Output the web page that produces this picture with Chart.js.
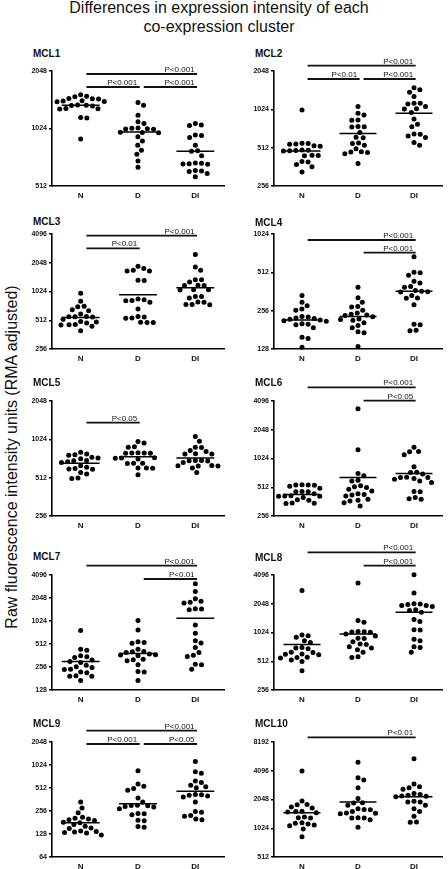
<!DOCTYPE html>
<html>
<head>
<meta charset="utf-8">
<script src="https://cdn.jsdelivr.net/npm/chart.js@4"></script>
<style>
  body { margin: 0; background: #fff; width: 448px; height: 869px; position: relative; overflow: hidden;
         font-family: "Liberation Sans", Arial, sans-serif; color: #111; }
  .main-title { position: absolute; left: 0; top: -1px; width: 438px; text-align: center; font-size: 16px; line-height: 18.5px; }
  .ylab { position: absolute; left: 12px; top: 457px; transform: translate(-50%, -50%) rotate(-90deg);
          white-space: nowrap; font-size: 16px; }
  .panel-title { position: absolute; font-weight: bold; font-size: 10px; line-height: 10px; }
  canvas { position: absolute; }
</style>
</head>
<body>
<div class="main-title">Differences in expression intensity of each<br>co-expression cluster</div>
<div class="ylab">Raw fluorescence intensity units (RMA adjusted)</div>
<script>
// ---- data ----
const groups = ["N", "D", "DI"];

const mcl1N  = [1540, 1510, 1500, 1472, 1466, 1460, 1432, 1428, 1420, 1415, 1360, 1355, 1350, 1345, 1305, 1300, 1296, 1168, 1162, 901];
const mcl1D  = [1400, 1355, 1202, 1110, 1088, 1030, 1026, 1022, 1018, 1015, 980, 976, 972, 926, 880, 838, 789, 750, 692, 641];
const mcl1DI = [1088, 1068, 1062, 946, 940, 919, 838, 782, 778, 738, 676, 673, 670, 668, 665, 618, 614, 610, 596, 573];
const mcl1Med = [1355, 983, 778];
const mcl1Ticks = [512, 1024, 2048];
const mcl1Sig = [["N", "DI", "P<0.001"], ["N", "D", "P<0.001"], ["D", "DI", "P<0.001"]];

const mcl2N  = [1012, 555, 551, 548, 545, 530, 526, 490, 488, 486, 484, 482, 447, 445, 442, 399, 395, 378, 362, 330];
const mcl2D  = [1076, 952, 924, 845, 841, 750, 747, 744, 674, 617, 613, 557, 553, 535, 503, 475, 473, 470, 459, 385];
const mcl2DI = [1512, 1457, 1397, 1290, 1145, 1141, 1129, 1076, 1033, 1029, 969, 859, 783, 747, 656, 652, 633, 615, 562, 535];
const mcl2Med = [482, 661, 952];
const mcl2Ticks = [256, 512, 1024, 2048];
const mcl2Sig = [["N", "DI", "P<0.001"], ["N", "D", "P<0.01"], ["D", "DI", "P<0.001"]];

const mcl3N  = [983, 810, 716, 710, 661, 645, 594, 560, 558, 556, 554, 526, 496, 492, 478, 461, 459, 457, 442, 398];
const mcl3D  = [1881, 1779, 1708, 1682, 1678, 1341, 1337, 857, 837, 825, 821, 791, 672, 559, 555, 540, 538, 488, 486, 484];
const mcl3DI = [2500, 1850, 1708, 1363, 1359, 1286, 1190, 1186, 1182, 1068, 1066, 1064, 909, 905, 877, 793, 789, 749, 747, 745];
const mcl3Med = [548, 945, 1121];
const mcl3Ticks = [256, 512, 1024, 2048, 4096];
const mcl3Sig = [["N", "DI", "P<0.001"], ["N", "D", "P<0.01"]];

const mcl4N  = [337, 298, 280, 264, 258, 230, 228, 224, 222, 219, 216, 213, 211, 202, 200, 198, 188, 158, 155, 132];
const mcl4D  = [391, 323, 298, 276, 274, 258, 245, 240, 237, 235, 229, 220, 218, 215, 206, 196, 188, 175, 172, 134];
const mcl4DI = [680, 512, 508, 485, 435, 422, 396, 391, 369, 364, 361, 358, 337, 322, 320, 285, 200, 198, 180, 178];
const mcl4Med = [216, 230, 364];
const mcl4Ticks = [128, 256, 512, 1024];
const mcl4Sig = [["N", "DI", "P<0.001"], ["D", "DI", "P<0.001"]];

const mcl5N  = [809, 787, 776, 768, 740, 731, 722, 697, 695, 683, 675, 635, 617, 605, 600, 596, 562, 546, 508, 505];
const mcl5D  = [983, 959, 897, 887, 803, 801, 799, 797, 795, 733, 731, 729, 717, 665, 663, 661, 611, 609, 607, 539];
const mcl5DI = [1077, 990, 889, 885, 835, 820, 789, 787, 785, 699, 697, 695, 693, 675, 637, 635, 633, 631, 609, 562];
const mcl5Med = [663, 748, 731];
const mcl5Ticks = [256, 512, 1024, 2048];
const mcl5Sig = [["N", "D", "P<0.05"]];

const mcl6N  = [543, 541, 539, 537, 524, 499, 462, 460, 458, 439, 417, 415, 413, 411, 399, 379, 375, 350, 348, 346];
const mcl6D  = [3400, 1267, 714, 676, 607, 597, 530, 517, 508, 488, 469, 439, 431, 424, 415, 383, 374, 368, 353, 325];
const mcl6DI = [1342, 1212, 1208, 1123, 839, 734, 730, 703, 650, 648, 646, 632, 622, 597, 573, 462, 458, 399, 389, 383];
const mcl6Med = [431, 648, 714];
const mcl6Ticks = [256, 512, 1024, 2048, 4096];
const mcl6Sig = [["N", "DI", "P<0.001"], ["D", "DI", "P<0.05"]];

const mcl7N  = [767, 438, 425, 358, 348, 341, 315, 302, 293, 270, 257, 252, 239, 237, 221, 216, 196, 194, 193, 171];
const mcl7D  = [1036, 781, 548, 537, 522, 438, 409, 405, 397, 378, 371, 367, 358, 323, 318, 308, 273, 223, 221, 171];
const mcl7DI = [3150, 2498, 2000, 1862, 1806, 1755, 1477, 1473, 1432, 908, 706, 565, 526, 462, 397, 366, 352, 278, 273, 239];
const mcl7Med = [302, 385, 1113];
const mcl7Ticks = [128, 256, 512, 1024, 2048, 4096];
const mcl7Sig = [["N", "DI", "P<0.001"], ["D", "DI", "P<0.01"]];

const mcl8N  = [2827, 964, 949, 911, 840, 807, 715, 705, 694, 637, 633, 611, 607, 600, 564, 560, 554, 527, 510, 406];
const mcl8D  = [3375, 1366, 1311, 1048, 1044, 1038, 1028, 989, 941, 892, 888, 820, 775, 767, 726, 705, 677, 635, 571, 562];
const mcl8DI = [4130, 2648, 2045, 2041, 2012, 1965, 1961, 1916, 1771, 1742, 1672, 1398, 1332, 1091, 1087, 869, 840, 726, 715, 635];
const mcl8Med = [767, 989, 1672];
const mcl8Ticks = [256, 512, 1024, 2048, 4096];
const mcl8Sig = [["N", "DI", "P<0.001"], ["D", "DI", "P<0.001"]];

const mcl9N  = [336, 280, 242, 212, 206, 201, 197, 192, 182, 179, 171, 162, 153, 151, 140, 138, 136, 134, 132, 124];
const mcl9D  = [863, 576, 541, 504, 479, 379, 336, 305, 303, 301, 294, 288, 274, 237, 235, 229, 193, 191, 160, 157];
const mcl9DI = [1137, 837, 797, 631, 605, 557, 530, 514, 421, 417, 411, 402, 390, 336, 252, 247, 223, 219, 201, 197];
const mcl9Med = [179, 318, 465];
const mcl9Ticks = [64, 128, 256, 512, 1024, 2048];
const mcl9Sig = [["N", "DI", "P<0.001"], ["N", "D", "P<0.001"], ["D", "DI", "P<0.05"]];

const mcl10N  = [4070, 1977, 1810, 1802, 1707, 1666, 1540, 1536, 1514, 1490, 1342, 1320, 1310, 1167, 1157, 1133, 1107, 1090, 1008, 836];
const mcl10D  = [5031, 3459, 3271, 2713, 2093, 1888, 1884, 1781, 1640, 1606, 1602, 1538, 1478, 1474, 1452, 1320, 1312, 1308, 1256, 1048];
const mcl10DI = [5457, 2969, 2778, 2713, 2627, 2363, 2305, 2269, 2232, 2218, 2183, 1962, 1931, 1929, 1781, 1640, 1538, 1364, 1189, 1185];
const mcl10Med = [1490, 1931, 2183];
const mcl10Ticks = [512, 1024, 2048, 4096, 8192];
const mcl10Sig = [["N", "DI", "P<0.01"]];

const panels = [
  { name: "MCL1", vals: [mcl1N, mcl1D, mcl1DI], med: mcl1Med, ticks: mcl1Ticks, sig: mcl1Sig },
  { name: "MCL2", vals: [mcl2N, mcl2D, mcl2DI], med: mcl2Med, ticks: mcl2Ticks, sig: mcl2Sig },
  { name: "MCL3", vals: [mcl3N, mcl3D, mcl3DI], med: mcl3Med, ticks: mcl3Ticks, sig: mcl3Sig },
  { name: "MCL4", vals: [mcl4N, mcl4D, mcl4DI], med: mcl4Med, ticks: mcl4Ticks, sig: mcl4Sig },
  { name: "MCL5", vals: [mcl5N, mcl5D, mcl5DI], med: mcl5Med, ticks: mcl5Ticks, sig: mcl5Sig },
  { name: "MCL6", vals: [mcl6N, mcl6D, mcl6DI], med: mcl6Med, ticks: mcl6Ticks, sig: mcl6Sig },
  { name: "MCL7", vals: [mcl7N, mcl7D, mcl7DI], med: mcl7Med, ticks: mcl7Ticks, sig: mcl7Sig },
  { name: "MCL8", vals: [mcl8N, mcl8D, mcl8DI], med: mcl8Med, ticks: mcl8Ticks, sig: mcl8Sig },
  { name: "MCL9", vals: [mcl9N, mcl9D, mcl9DI], med: mcl9Med, ticks: mcl9Ticks, sig: mcl9Sig },
  { name: "MCL10", vals: [mcl10N, mcl10D, mcl10DI], med: mcl10Med, ticks: mcl10Ticks, sig: mcl10Sig }
];

// ---- layout ----
const FONT = "'Liberation Sans', Arial, sans-serif";
const PAD_TOP = 40, PLOT_H = 115, X_H = 20;
const rowTops = [71, 234, 401, 575, 742];
const cols = [
  { left: 20, width: 208, axisW: 32, padR: 4, titleX: 33 },
  { left: 238, width: 210, axisW: 36, padR: 6, titleX: 255 }
];
const titleBase = [57.3, 57.3, 225, 226, 386.5, 386.5, 560.7, 561.7, 727.7, 727.7];
// px offset of each significance bar from the top of the plot area
const sigOffsets = [[3, 16, 16], [-5.3, 8, 8], [1.7, 14.3], [6, 18.7], [21.7], [-13.7, -0.3], [-9.3, 4], [-22.7, -9.3], [-11.3, 2, 2], [-4.7]];

const DOT_D = 6.2;   // spacing between dot centres in the swarm
const MED_HALF = 0.33;

// simple beeswarm: spread points sideways so they don't overlap
function swarm(values, pxPerLog2, pxPerUnit) {
  const placed = [];
  return values.map(v => {
    const py = Math.log2(v) * pxPerLog2;
    const near = placed.filter(q => Math.abs(q.py - py) < DOT_D);
    const cands = [0];
    near.forEach(q => {
      const d = Math.sqrt(DOT_D * DOT_D - (q.py - py) ** 2);
      cands.push(q.o + d, q.o - d);
    });
    cands.sort((a, b) => Math.abs(a) - Math.abs(b));
    const o = cands.find(c => near.every(q => (q.o - c) ** 2 + (q.py - py) ** 2 >= DOT_D * DOT_D - 0.01));
    placed.push({ o, py });
    return o / pxPerUnit;
  });
}

function sigPlugin(items, offsets) {
  return {
    id: "sig",
    afterDraw(chart) {
      const { ctx, chartArea, scales } = chart;
      ctx.save();
      ctx.strokeStyle = "#111";
      ctx.fillStyle = "#111";
      ctx.lineWidth = 1.8;
      ctx.font = "8px " + FONT;
      ctx.textAlign = "right";
      ctx.textBaseline = "alphabetic";
      items.forEach(([a, b, label], k) => {
        const y = chartArea.top + offsets[k];
        const x1 = scales.x.getPixelForValue(groups.indexOf(a) + 0.6);
        const x2 = scales.x.getPixelForValue(groups.indexOf(b) + 0.53);
        ctx.beginPath();
        ctx.moveTo(x1, y);
        ctx.lineTo(x2, y);
        ctx.stroke();
        ctx.fillText(label, x2 - 2.5, y - 2);
      });
      ctx.restore();
    }
  };
}

panels.forEach((p, i) => {
  const c = cols[i % 2];
  const row = Math.floor(i / 2);

  const t = document.createElement("div");
  t.className = "panel-title";
  t.textContent = p.name;
  t.style.left = c.titleX + "px";
  t.style.top = (titleBase[i] - 8.5) + "px";
  document.body.appendChild(t);

  const cv = document.createElement("canvas");
  cv.width = c.width;
  cv.height = PAD_TOP + PLOT_H + X_H;
  cv.style.left = c.left + "px";
  cv.style.top = (rowTops[row] - PAD_TOP) + "px";
  document.body.appendChild(cv);

  const yMin = p.ticks[0], yMax = p.ticks[p.ticks.length - 1];
  const pxPerLog2 = PLOT_H / Math.log2(yMax / yMin);
  const pxPerUnit = (c.width - c.axisW - c.padR) / 3;

  const datasets = [];
  p.vals.forEach((vals, k) => {
    const jit = swarm(vals, pxPerLog2, pxPerUnit);
    datasets.push({
      data: vals.map((v, j) => ({ x: k + 0.5 + jit[j], y: v })),
      pointRadius: 2.5,
      pointBackgroundColor: "#000",
      pointBorderWidth: 0,
      showLine: false,
      clip: false
    });
    datasets.push({
      data: [{ x: k + 0.5 - MED_HALF, y: p.med[k] }, { x: k + 0.5 + MED_HALF, y: p.med[k] }],
      showLine: true,
      borderColor: "#000",
      borderWidth: 1.5,
      pointRadius: 0
    });
  });

  new Chart(cv, {
    type: "scatter",
    data: { datasets },
    options: {
      responsive: false,
      animation: false,
      events: [],
      layout: { padding: { top: PAD_TOP, left: 0, right: c.padR, bottom: 0 } },
      plugins: { legend: { display: false }, tooltip: { enabled: false } },
      scales: {
        x: {
          type: "linear", min: 0, max: 3,
          afterBuildTicks: ax => { ax.ticks = groups.map((g, k) => ({ value: k + 0.5 })); },
          afterFit: ax => { ax.height = X_H; },
          grid: { display: false, drawTicks: false },
          border: { color: "#000", width: 1.6 },
          ticks: { padding: 5, color: "#111", font: { size: 8, weight: "bold", family: FONT },
                   callback: v => groups[Math.floor(v)] }
        },
        y: {
          type: "logarithmic", min: yMin, max: yMax,
          afterBuildTicks: ax => { ax.ticks = p.ticks.map(v => ({ value: v })); },
          afterFit: ax => { ax.width = c.axisW; },
          grid: { drawOnChartArea: false, drawTicks: true, tickLength: 3, color: "#000", lineWidth: 1.4 },
          border: { color: "#000", width: 1.6 },
          ticks: { autoSkip: false, padding: 2, color: "#111", font: { size: 7, weight: "bold", family: FONT },
                   callback: v => String(v) }
        }
      }
    },
    plugins: [sigPlugin(p.sig, sigOffsets[i])]
  });
});
</script>
</body>
</html>
